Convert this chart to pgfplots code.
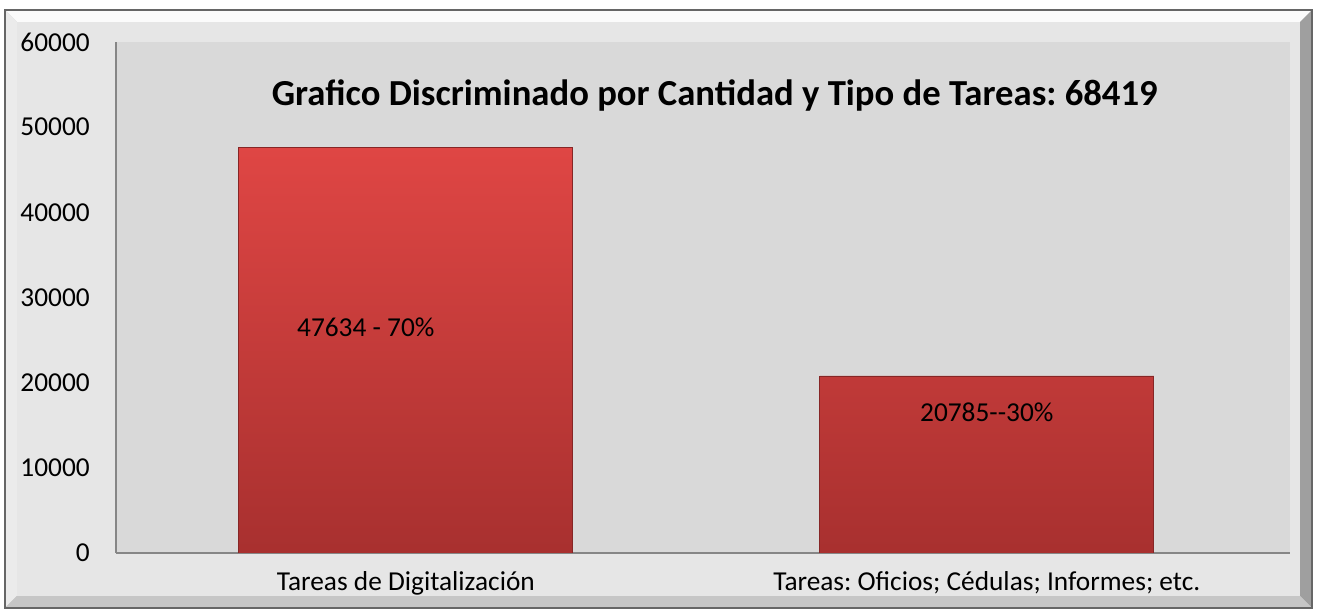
\documentclass[border=0pt]{standalone}
\usepackage{pgfplots}
\pgfplotsset{compat=1.18}
\usepackage{fontspec}
\setmainfont{Carlito}

\definecolor{framebg}{HTML}{E6E6E6}
\definecolor{plotbg}{HTML}{D9D9D9}
\definecolor{axisgray}{HTML}{868686}
\definecolor{bartop}{HTML}{DF4644}
\definecolor{barbot}{HTML}{A8302F}

\begin{document}
\frenchspacing
\begin{tikzpicture}
% picture area (1317 x 610 px, 1px = 0.75bp), axis box lower left at origin
\path (-87bp,-42.75bp) rectangle (900.75bp,414.75bp);
% chart frame
\fill[framebg!70!gray] (-83.25bp,-41.25bp) rectangle (897bp,407.25bp);
\fill[white!85!framebg] (-83.25bp,407.25bp) -- (897bp,407.25bp) -- (888bp,398.25bp) -- (-74.25bp,398.25bp) -- cycle;
\fill[framebg!80!white] (-83.25bp,-41.25bp) -- (-83.25bp,407.25bp) -- (-74.25bp,398.25bp) -- (-74.25bp,-32.25bp) -- cycle;
\fill[gray!75] (897bp,-41.25bp) -- (897bp,407.25bp) -- (888bp,398.25bp) -- (888bp,-32.25bp) -- cycle;
\fill[gray!45] (-83.25bp,-41.25bp) -- (897bp,-41.25bp) -- (888bp,-32.25bp) -- (-74.25bp,-32.25bp) -- cycle;
\fill[framebg] (-74.25bp,-32.25bp) rectangle (888bp,398.25bp);
\draw[gray!80!black, line width=1.2bp] (-83.25bp,-41.25bp) rectangle (897bp,407.25bp);

\begin{axis}[
  scale only axis,
  width=880.5bp, height=383.25bp,
  at={(0,0)}, anchor=south west,
  axis background/.style={fill=plotbg},
  axis x line*=bottom, axis y line*=left,
  axis line style={axisgray, line width=1.2bp},
  major tick length=0pt,
  ymin=0, ymax=60000,
  ytick={0,10000,...,60000},
  xmin=-0.499, xmax=1.522,
  xtick={0,1},
  xticklabels={Tareas de Digitalización, {Tareas: Oficios; Cédulas; Informes; etc.}},
  /pgf/number format/assume math mode=true,
  scaled y ticks=false,
  yticklabel={\pgfmathprintnumber[fixed,1000 sep={}]{\tick}},
  tick label style={font=\fontsize{20.5bp}{24bp}\selectfont, black},
  yticklabel style={inner sep=0pt, xshift=-19.5bp},
  xticklabel style={inner sep=0pt, yshift=-14bp},
  ybar, bar width=0.575,
  title={\textbf{Grafico Discriminado por Cantidad y Tipo de Tareas: 68419}},
  title style={at={(rel axis cs:0.51,0.861)}, anchor=base, inner sep=0pt, font=\fontsize{27.5bp}{32bp}\selectfont},
]
\addplot[draw=barbot!80!black, line width=0.6bp, top color=bartop, bottom color=barbot]
  coordinates {(0,47634) (1,20785)};
\node[font=\fontsize{20.5bp}{24bp}\selectfont] at (axis cs:-0.069,26536) {47634 - 70\%};
\node[font=\fontsize{20.5bp}{24bp}\selectfont] at (axis cs:1,16556) {20785{-}{-}30\%};
\end{axis}
\end{tikzpicture}
\end{document}
